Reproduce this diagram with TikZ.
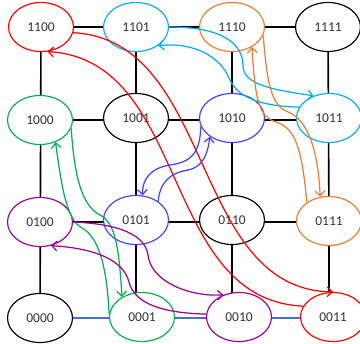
\documentclass[tikz,border=0pt]{standalone}
\usepackage{fontspec}
\setmainfont{Carlito}
\usepackage{xcolor}
\usetikzlibrary{shapes.geometric,arrows.meta}
\definecolor{flipRed}{HTML}{FF0000}
\definecolor{flipSky}{HTML}{00B0F0}
\definecolor{flipOrange}{HTML}{ED7D31}
\definecolor{flipGreen}{HTML}{00B050}
\definecolor{flipBlue}{HTML}{4040FF}
\definecolor{flipPurple}{HTML}{990099}
\definecolor{rowBlue}{HTML}{4472C4}
\definecolor{labelGray}{HTML}{333333}

\begin{document}
\begin{tikzpicture}[x=0.3mm, y=-0.3mm,
  state/.style={ellipse, draw=black, line width=1pt, fill=white, minimum width=19.5mm, minimum height=14.7mm, inner sep=0pt, font=\fontsize{11.5}{13}\selectfont, text=labelGray},
  link/.style={line width=1.4pt},
  flip/.style={line width=1.05pt, -{Straight Barb[length=1.5mm,width=2.9mm]}}]
  \useasboundingbox (0,0) rectangle (360,344);

  % Grid lines (drawn first, the states cover them)
  \coordinate (c1100) at (41,27);   \coordinate (c1101) at (136,27);
  \coordinate (c1110) at (232,27);  \coordinate (c1111) at (328,27);
  \coordinate (c1000) at (40,120);  \coordinate (c1001) at (136,120);
  \coordinate (c1010) at (232,120); \coordinate (c1011) at (329,120);
  \coordinate (c0100) at (40,222);  \coordinate (c0101) at (136,222);
  \coordinate (c0110) at (232,222); \coordinate (c0111) at (329,222);
  \coordinate (c0000) at (40,318);  \coordinate (c0001) at (142,318);
  \coordinate (c0010) at (239,318); \coordinate (c0011) at (333,318);

  \draw[link] (c1100) -- (c1101) -- (c1110) -- (c1111);
  \draw[link] (c1000) -- (c1001) -- (c1010) -- (c1011);
  \draw[link] (c0100) -- (c0101) -- (c0110) -- (c0111);
  \draw[link] (c1100) -- (c0000);
  \draw[link] (c1101) -- (c0101) -- (c0101 |- c0001);
  \draw[link] (c1110) -- (c0110) -- (c0110 |- c0010);
  \draw[link] (c1111) -- (c0111) -- (c0111 |- c0011);
  \draw[link, rowBlue] (c0000) -- (c0001) -- (c0010) -- (c0011);

  % States
  \node[state, draw=flipRed] (n1100) at (c1100) {1100};
  \node[state, draw=flipSky] (n1101) at (c1101) {1101};
  \node[state, draw=flipOrange] (n1110) at (c1110) {1110};
  \node[state] (n1111) at (c1111) {1111};

  \node[state, draw=flipGreen] (n1000) at (c1000) {1000};
  \node[state] (n1001) at (136,118) {1001};
  \node[state, draw=flipBlue] (n1010) at (232,118) {1010};
  \node[state, draw=flipSky] (n1011) at (329,118) {1011};

  \node[state, draw=flipPurple] (n0100) at (c0100) {0100};
  \node[state, draw=flipBlue] (n0101) at (136,220) {0101};
  \node[state] (n0110) at (232,220) {0110};
  \node[state, draw=flipOrange] (n0111) at (329,221) {0111};

  \node[state] (n0000) at (c0000) {0000};
  \node[state, draw=flipGreen] (n0001) at (142,317) {0001};
  \node[state, draw=flipPurple] (n0010) at (239,317) {0010};
  \node[state, draw=flipRed] (n0011) at (333,317) {0011};

  % Flips, one pair of arrows per colour
  \draw[flip, flipRed] (n1100.-10) .. controls (215,40) and (190,290) .. (n0011.north);
  \draw[flip, flipRed] (n0011.160) .. controls (160,300) and (190,60) .. (n1100.-75);

  \draw[flip, flipSky] (n1101.east) .. controls (225,27) and (243,45) .. (243,66) .. controls (243,85) and (275,90) .. (n1011.125);
  \draw[flip, flipSky] (n1011.160) .. controls (255,106) and (236,95) .. (229,78) .. controls (220,57) and (195,42) .. (n1101.-40);

  \draw[flip, flipOrange] (n1110.-15) .. controls (267,80) and (270,105) .. (288,112) .. controls (308,120) and (318,150) .. (n0111.110);
  \draw[flip, flipOrange] (n0111.140) .. controls (302,150) and (296,128) .. (276,122) .. controls (259,117) and (255,100) .. (n1110.-45);

  \draw[flip, flipBlue] (n1010.195) .. controls (200,155) and (190,162) .. (170,165) .. controls (150,168) and (142,180) .. (n0101.75);
  \draw[flip, flipBlue] (n0101.40) .. controls (160,182) and (170,173) .. (188,170) .. controls (204,167) and (208,152) .. (n1010.220);

  \draw[flip, flipGreen] (n1000.-15) .. controls (74,170) and (80,205) .. (100,215) .. controls (116,223) and (119,250) .. (n0001.135);
  \draw[flip, flipGreen] (n0001.175) .. controls (107,270) and (100,238) .. (82,228) .. controls (67,220) and (62,190) .. (n1000.-55);

  \draw[flip, flipPurple] (n0100.east) .. controls (120,224) and (145,235) .. (148,255) .. controls (151,282) and (190,297) .. (n0010.125);
  \draw[flip, flipPurple] (n0010.175) .. controls (165,313) and (135,305) .. (129,282) .. controls (123,258) and (90,248) .. (n0100.-65);
\end{tikzpicture}
\end{document}
